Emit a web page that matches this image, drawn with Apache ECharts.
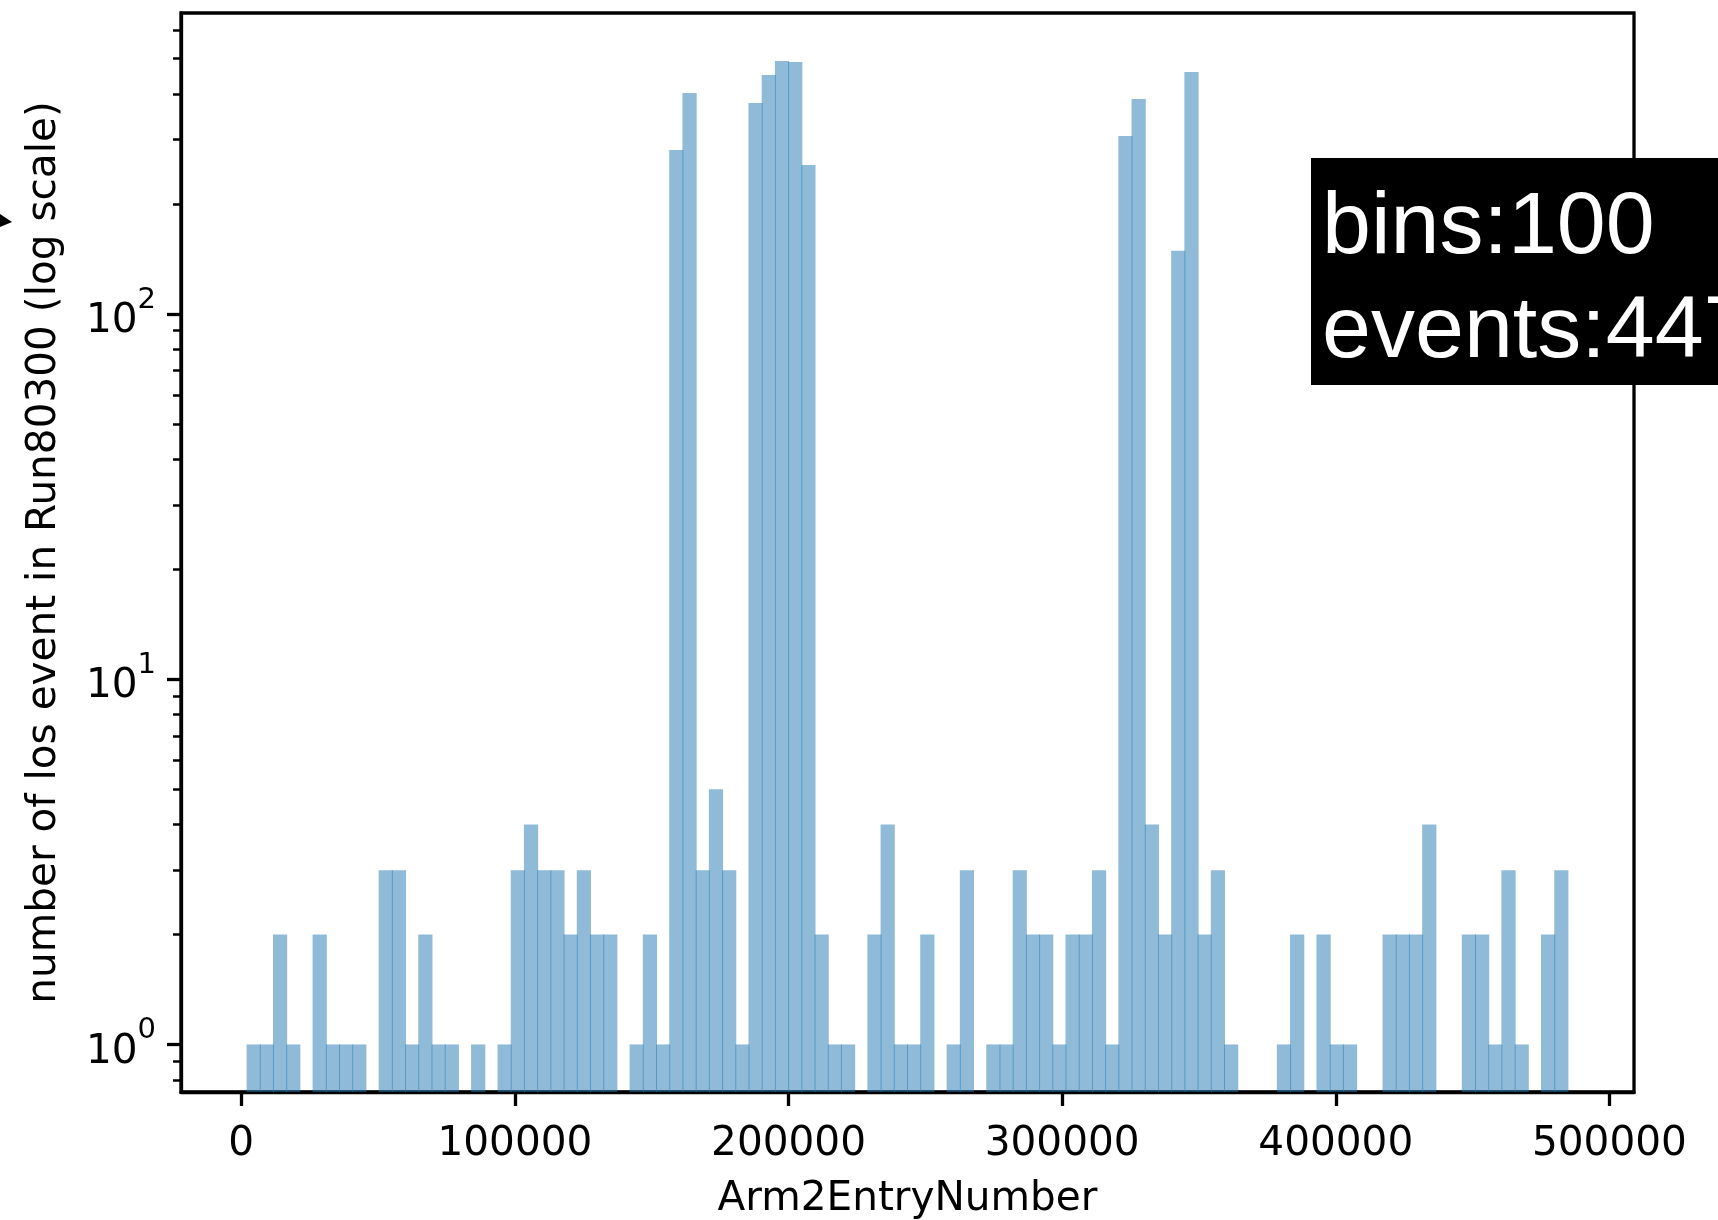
<!DOCTYPE html>
<html><head><meta charset="utf-8">
<script src="https://cdn.jsdelivr.net/npm/echarts@6/dist/echarts.min.js"></script>
<style>html,body{margin:0;padding:0;background:#fff}#c{width:1718px;height:1220px}</style>
</head><body><div id="c"></div>
<script>
// ---- data ----
const binCount = 100;
const dataMin = 2120;
const dataMax = 484840;
const counts = [
  1,1,2,1,0,2,1,1,1,0,3,3,1,2,1,1,0,1,
  0,1,3,4,3,3,2,3,2,2,0,1,2,1,
  281,403,3,5,3,1,378,451,493,490,256,
  2,1,1,0,2,4,1,1,2,0,1,3,0,1,1,3,2,2,1,2,2,3,1,
  307,388,4,2,149,460,
  2,3,1,0,0,0,1,2,0,2,1,1,0,0,2,2,2,4,0,0,2,2,1,3,1,0,2,3
];
const xTicks = [0, 100000, 200000, 300000, 400000, 500000];
const yMajorTicks = [1, 10, 100];
const yMinorTicks = [0.8,0.9,2,3,4,5,6,7,8,9,20,30,40,50,60,70,80,90,200,300,400,500,600];
const xRange = [-22016, 508976];
const yRange = [0.741, 667];
const annotationLines = ['bins:100', 'events:4473'];
const xName = 'Arm2EntryNumber';
const yName = 'number of los event in Run80300 (log scale)';

// ---- build ----
const binW = (dataMax - dataMin) / binCount;
const bars = [];
counts.forEach((c, i) => { if (c > 0) bars.push([dataMin + i * binW, dataMin + (i + 1) * binW, c]); });

const FONT = 'DejaVu Sans';
const FS = 40.6;
const chart = echarts.init(document.getElementById('c'), null, {renderer: 'canvas'});
const supMap = {1: '0', 10: '1', 100: '2'};
chart.setOption({
  animation: false,
  backgroundColor: '#fff',
  grid: {left: 181, right: 84, top: 13, bottom: 128, containLabel: false, outerBoundsMode: 'none',
         show: true, borderColor: '#000', borderWidth: 3.3, backgroundColor: 'transparent'},
  xAxis: {
    type: 'value', min: xRange[0], max: xRange[1],
    axisLine: {show: true, onZero: false, lineStyle: {color: '#000', width: 3.3}},
    axisTick: {show: true, length: 14, customValues: xTicks, lineStyle: {color: '#000', width: 3.3}},
    axisLabel: {customValues: xTicks, fontSize: FS, fontFamily: FONT, color: '#000', margin: 32, formatter: v => String(v)},
    splitLine: {show: false},
    name: xName, nameLocation: 'middle', nameGap: 87,
    nameTextStyle: {fontSize: FS, fontFamily: FONT, color: '#000'}
  },
  yAxis: [{
    type: 'log', logBase: 10, min: yRange[0], max: yRange[1], position: 'left',
    axisLine: {show: true, onZero: false, lineStyle: {color: '#000', width: 3.3}},
    axisTick: {show: true, length: 14, customValues: yMajorTicks, lineStyle: {color: '#000', width: 3.3}},
    axisLabel: {
      customValues: yMajorTicks, margin: 25, color: '#000', fontSize: FS, fontFamily: FONT,
      formatter: v => '{b|10}{s|' + supMap[Math.round(v)] + '}',
      rich: {
        b: {fontSize: FS, fontFamily: FONT, color: '#000', lineHeight: 56, verticalAlign: 'bottom'},
        s: {fontSize: 29, fontFamily: FONT, color: '#000', lineHeight: 56, verticalAlign: 'top'}
      }
    },
    splitLine: {show: false},
    name: yName, nameLocation: 'middle', nameRotate: 90, nameGap: 116,
    nameTextStyle: {fontSize: FS, fontFamily: FONT, color: '#000'}
  }, {
    type: 'log', logBase: 10, min: yRange[0], max: yRange[1], position: 'left',
    axisLine: {show: false, onZero: false},
    axisTick: {show: true, length: 8, customValues: yMinorTicks, lineStyle: {color: '#000', width: 2.5}},
    axisLabel: {show: false},
    splitLine: {show: false}
  }],
  series: [{
    type: 'custom', clip: true, yAxisIndex: 0,
    data: bars,
    encode: {x: [0, 1], y: 2},
    renderItem: (params, api) => {
      const p0 = api.coord([api.value(0), api.value(2)]);
      const p1 = api.coord([api.value(1), api.value(2)]);
      const bottom = params.coordSys.y + params.coordSys.height;
      return {
        type: 'rect',
        shape: {x: p0[0] - 0.5, y: p0[1], width: p1[0] - p0[0] + 1, height: bottom - p0[1]},
        style: {fill: 'rgba(31,119,180,0.5)'}
      };
    }
  }],
  graphic: [
    {type: 'polygon', shape: {points: [[0, 214], [12, 222], [0, 227]]}, style: {fill: '#000'}},
    {type: 'rect', shape: {x: 1311, y: 158, width: 420, height: 227}, style: {fill: '#000'}, z: 100},
    {type: 'text', x: 1322, y: 229, z: 101, style: {text: annotationLines[0], fill: '#fff', font: '88px "Liberation Sans", Arial, sans-serif', verticalAlign: 'middle'}},
    {type: 'text', x: 1322, y: 333, z: 101, style: {text: annotationLines[1], fill: '#fff', font: '88px "Liberation Sans", Arial, sans-serif', verticalAlign: 'middle'}}
  ]
});
</script></body></html>
